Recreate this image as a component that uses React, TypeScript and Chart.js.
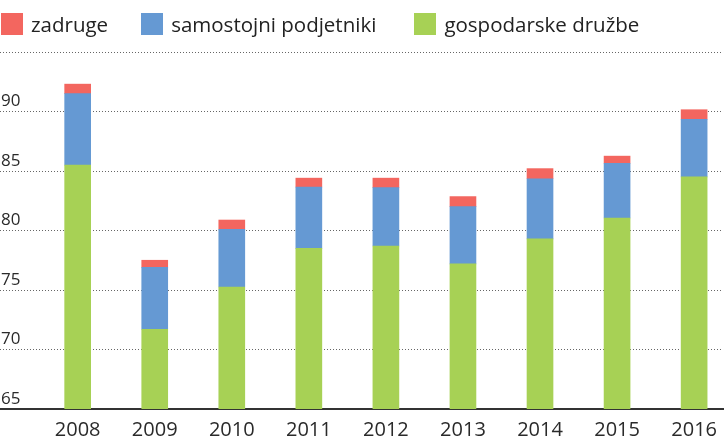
import React, { useEffect, useRef } from "react";
import { Chart, registerables } from "chart.js";

Chart.register(...registerables);

const years = ["2008", "2009", "2010", "2011", "2012", "2013", "2014", "2015", "2016"];
const gospodarskeDruzbe = [85.5, 71.7, 75.25, 78.5, 78.7, 77.2, 79.3, 81.05, 84.5];
const samostojniPodjetniki = [6.0, 5.2, 4.85, 5.15, 4.9, 4.8, 5.05, 4.6, 4.85];
const zadruge = [0.8, 0.6, 0.78, 0.75, 0.8, 0.85, 0.85, 0.6, 0.8];
const yTicks = [65, 70, 75, 80, 85, 90, 95];

const seriesNames = ["zadruge", "samostojni podjetniki", "gospodarske družbe"];
const seriesColors = ["#F3665F", "#6599D3", "#A7D155"];

const FONT = "'Open Sans', sans-serif";

export default function App() {
  const canvasRef = useRef<HTMLCanvasElement | null>(null);

  useEffect(() => {
    document.body.style.margin = "0";
    const canvas = canvasRef.current;
    if (!canvas) return;
    const toPts = (arr: number[]) => arr.map((v, i) => ({ x: i, y: v }));
    const chart = new Chart(canvas, {
      type: "bar",
      data: {
        datasets: [
          {
            label: seriesNames[2],
            data: toPts(gospodarskeDruzbe),
            backgroundColor: seriesColors[2],
            barThickness: 26,
          },
          {
            label: seriesNames[1],
            data: toPts(samostojniPodjetniki),
            backgroundColor: seriesColors[1],
            barThickness: 26,
          },
          {
            label: seriesNames[0],
            data: toPts(zadruge),
            backgroundColor: seriesColors[0],
            barThickness: 26,
          },
        ] as any,
      },
      options: {
        animation: false,
        responsive: false,
        maintainAspectRatio: false,
        layout: { padding: { top: 52, left: 0, right: 0, bottom: 0 } },
        plugins: { legend: { display: false }, tooltip: { enabled: false } },
        scales: {
          x: {
            type: "linear",
            stacked: true,
            offset: false,
            min: -1.008,
            max: 8.375,
            grid: { display: false, drawTicks: false },
            border: { display: true, color: "#333", width: 2 },
            afterBuildTicks: (scale: any) => {
              scale.ticks = years.map((_, i) => ({ value: i }));
            },
            afterFit: (scale: any) => {
              scale.height = 30;
            },
            ticks: {
              autoSkip: false,
              maxRotation: 0,
              padding: 9,
              color: "#2a2a2a",
              font: { family: FONT, size: 20 },
              callback: (v: any) => years[Number(v)] ?? "",
            },
          },
          y: {
            type: "linear",
            stacked: true,
            min: yTicks[0],
            max: yTicks[yTicks.length - 1],
            afterBuildTicks: (scale: any) => {
              scale.ticks = yTicks.map((v) => ({ value: v }));
            },
            afterFit: (scale: any) => {
              scale.width = 0;
            },
            grid: {
              drawTicks: false,
              color: (ctx: any) => (ctx.tick && ctx.tick.value === yTicks[0] ? "rgba(0,0,0,0)" : "#666"),
              lineWidth: 1,
            },
            border: { display: false, dash: [1, 2] },
            ticks: {
              mirror: true,
              padding: 1,
              labelOffset: -10,
              color: "#2a2a2a",
              font: { family: FONT, size: 17 },
              callback: (v: any) => (Number(v) === yTicks[yTicks.length - 1] ? "" : String(v)),
            },
          },
        },
      } as any,
    });
    return () => chart.destroy();
  }, []);

  return (
    <div style={{ position: "relative", width: 726, height: 439, overflow: "hidden", background: "#fff" }}>
      <canvas ref={canvasRef} width={726} height={439} style={{ position: "absolute", left: 0, top: 0 }} />
      <div
        style={{
          position: "absolute",
          left: 1,
          top: 13,
          height: 22,
          display: "flex",
          alignItems: "center",
          fontFamily: FONT,
          fontSize: 20.5,
          color: "#222",
          whiteSpace: "nowrap",
        }}
      >
        {seriesNames.map((name, i) => (
          <div key={name} style={{ display: "flex", alignItems: "center", marginRight: i === 0 ? 33 : 38 }}>
            <span style={{ display: "inline-block", width: 22, height: 22, background: seriesColors[i], marginRight: 8 }} />
            <span style={{ lineHeight: "22px" }}>{name}</span>
          </div>
        ))}
      </div>
    </div>
  );
}
